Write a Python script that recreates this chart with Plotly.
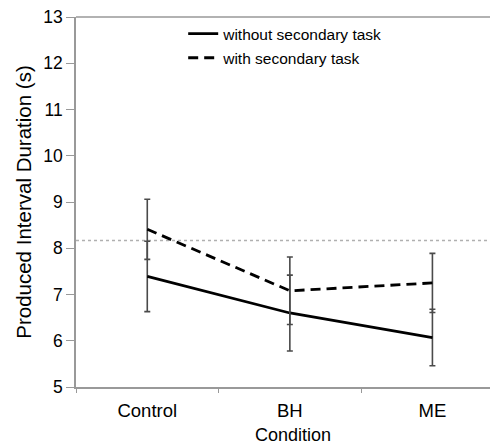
import plotly.graph_objects as go

conditions = ["Control", "BH", "ME"]
without_task = [7.39, 6.60, 6.07]
without_err = [0.76, 0.82, 0.61]
with_task = [8.41, 7.08, 7.25]
with_err = [0.65, 0.73, 0.64]
reference_duration = 8.17
y_ticks = [5, 6, 7, 8, 9, 10, 11, 12, 13]

fig = go.Figure()
fig.add_trace(go.Scatter(
    x=conditions, y=without_task, mode="lines", name="without secondary task",
    line=dict(color="black", width=2.8), legendgroup="a",
    error_y=dict(type="data", array=without_err, visible=True, color="#4a4a4a", thickness=1.6, width=3),
))
fig.add_trace(go.Scatter(
    x=conditions, y=with_task, mode="lines", name="with secondary task",
    line=dict(color="black", width=2.8, dash="10px,6px"), legendgroup="b",
    error_y=dict(type="data", array=with_err, visible=True, color="#4a4a4a", thickness=1.6, width=3),
))
fig.add_hline(y=reference_duration, line=dict(color="#b0b0b0", width=1.5, dash="dot"), layer="below")
fig.add_shape(type="line", xref="paper", yref="paper", x0=0, x1=1, y0=1, y1=1,
              line=dict(color="#999999", width=1.5))
fig.add_annotation(text="Condition", xref="paper", yref="paper", x=0.5, xshift=6,
                   y=-0.131, xanchor="center", yanchor="middle", showarrow=False,
                   font=dict(size=18, color="black"))

fig.update_layout(
    width=490, height=436,
    margin=dict(l=68, r=0, t=9, b=57),
    paper_bgcolor="white", plot_bgcolor="white",
    font=dict(family="Liberation Sans, Arial, sans-serif", color="black"),
    showlegend=True,
    legend=dict(x=0.254, y=1.0, xanchor="left", yanchor="top", bgcolor="rgba(0,0,0,0)",
                font=dict(size=15.5), traceorder="grouped", tracegroupgap=1),
    xaxis=dict(range=[-0.5, 2.46], showline=True, linecolor="#999999", linewidth=1.5,
               tickson="boundaries", ticks="outside", ticklen=4, tickcolor="#999999",
               showgrid=False, tickfont=dict(size=18.5), automargin=False, ticklabelstandoff=6),
    yaxis=dict(range=[5, 13], tickvals=y_ticks, showline=True, linecolor="#999999", linewidth=1.5,
               ticks="outside", ticklen=8, tickcolor="#999999", showgrid=False, zeroline=False,
               tickfont=dict(size=17.5), automargin=False, ticklabeloverflow="allow",
               title=dict(text="Produced Interval Duration (s)", font=dict(size=20.5), standoff=6)),
)

fig.write_html("out.html")
